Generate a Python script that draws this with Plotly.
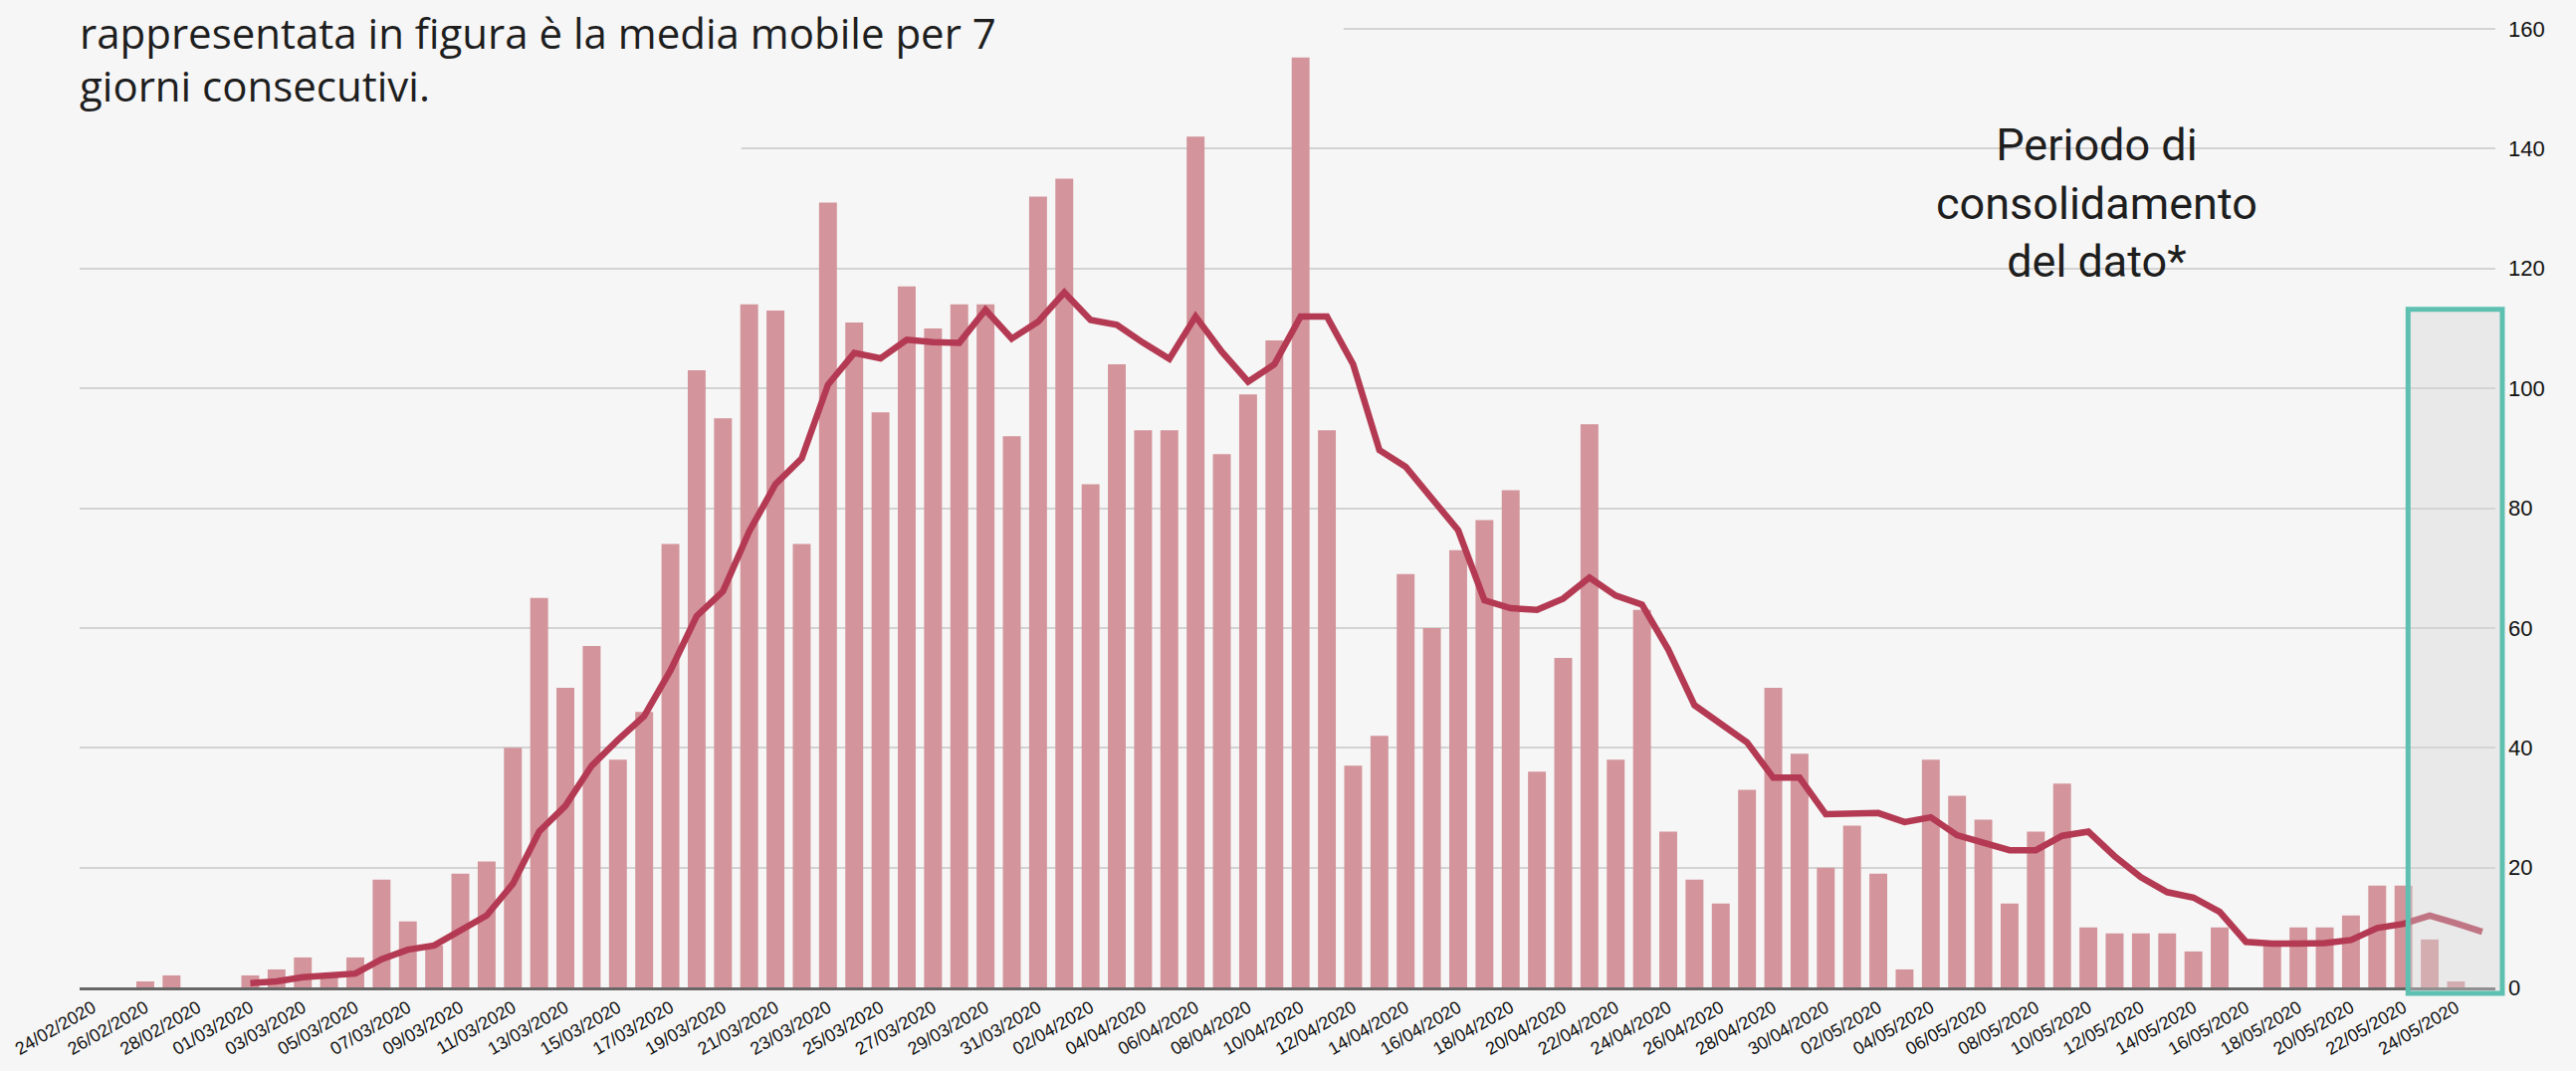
import datetime as dt
import plotly.graph_objects as go

# ---- data -------------------------------------------------------------
start = dt.date(2020, 2, 24)
dates = [(start + dt.timedelta(days=i)).strftime("%d/%m/%Y") for i in range(92)]

daily_values = [
    0, 0, 1, 2, 0, 0,                                   # 24/02 - 29/02
    2, 3, 5, 2, 5, 18, 11, 7, 19, 21,                   # 01/03 - 10/03
    40, 65, 50, 57, 38, 46, 74, 103, 95, 114,           # 11/03 - 20/03
    113, 74, 131, 111, 96, 117, 110, 114, 114, 92,      # 21/03 - 30/03
    132, 135, 84, 104, 93, 93, 142, 89, 99, 108,        # 31/03 - 09/04
    160, 93, 37, 42, 69, 60, 73, 78, 83, 36,            # 10/04 - 19/04
    55, 94, 38, 63, 26, 18, 14, 33, 50, 39,             # 20/04 - 29/04
    20, 27, 19, 3, 38, 32, 28, 14, 26, 34,              # 30/04 - 09/05
    10, 9, 9, 9, 6, 10, 0, 7, 10, 10,                   # 10/05 - 19/05
    12, 17, 17, 8, 1, 0,                                # 20/05 - 25/05
]

moving_avg = [
    None, None, None, None, None, None,
    0.7, 1.0, 1.7, 2.0, 2.3, 4.7, 6.3, 7.0, 9.6, 12.0,
    17.3, 26.0, 30.3, 37.0, 41.3, 45.3, 52.9, 62.0, 66.1, 76.1,
    84.0, 88.3, 100.6, 105.9, 105.0, 108.1, 107.7, 107.6, 113.1, 108.3,
    111.1, 116.0, 111.4, 110.6, 107.6, 104.9, 112.0, 106.1, 101.1, 104.0,
    112.0, 112.0, 104.0, 89.7, 86.9, 81.6, 76.3, 64.6, 63.3, 63.0,
    64.9, 68.4, 65.4, 63.9, 56.4, 47.1, 44.1, 40.9, 35.0, 35.0,
    28.9, 29.0, 29.1, 27.6, 28.4, 25.4, 24.1, 22.9, 22.9, 25.3,
    26.0, 21.9, 18.4, 15.9, 15.0, 12.6, 7.6, 7.3, 7.3, 7.4,
    7.9, 9.9, 10.6, 12.0, 10.7, 9.3,
]

tick_labels = dates[::2]
y_ticks = [0, 20, 40, 60, 80, 100, 120, 140, 160]

title_lines = ["rappresentata in figura è la media mobile per 7", "giorni consecutivi."]
box_label = "Periodo di<br>consolidamento<br>del dato*"

# ---- style ------------------------------------------------------------
BG = "#f6f6f6"
BAR = "#d3959b"
LINE = "#b43a53"
TEAL = "#5ec0b1"
GRID = "#d3d3d3"

fig = go.Figure()
fig.add_trace(go.Bar(x=dates, y=daily_values, marker=dict(color=BAR, line=dict(width=0)),
                     width=0.68, showlegend=False, hoverinfo="x+y"))
fig.add_trace(go.Scatter(x=dates, y=moving_avg, mode="lines",
                         line=dict(color=LINE, width=6.5), showlegend=False,
                         connectgaps=False))

W, H = 2588, 1076
Y_TOP = 160.5
# 0 at y=996 px, 160 at y=29 px
L, R, B = 72, 81, 80
ppu = (996 - 29) / 160.0
T = int(round(29 - (Y_TOP - 160) * ppu))
pw, ph = W - L - R, H - T - B

def px_x(p):
    return (p - L) / pw

def px_y(p):
    return (H - B - p) / ph

shapes = [
    # areas masked by the text block (background colour)
    dict(type="rect", xref="paper", yref="paper", layer="above",
         x0=-0.05, x1=px_x(1346), y0=px_y(58), y1=1.1,
         fillcolor=BG, line=dict(width=0)),
    dict(type="rect", xref="paper", yref="paper", layer="above",
         x0=-0.05, x1=px_x(739), y0=px_y(162), y1=1.1,
         fillcolor=BG, line=dict(width=0)),
    # consolidation period box
    dict(type="rect", xref="paper", yref="paper", layer="above",
         x0=px_x(2419), x1=px_x(2514), y0=px_y(1002), y1=px_y(312),
         fillcolor="rgba(212,212,212,0.38)", line=dict(color=TEAL, width=5)),
]

annotations = [
    dict(text=title_lines[0], xref="paper", yref="paper", x=px_x(70), y=px_y(33),
         xanchor="left", yanchor="middle", showarrow=False,
         font=dict(family="Open Sans", size=42, color="#1e1e1e")),
    dict(text=title_lines[1], xref="paper", yref="paper", x=px_x(70), y=px_y(86),
         xanchor="left", yanchor="middle", showarrow=False,
         font=dict(family="Open Sans", size=42, color="#1e1e1e")),
    dict(text=box_label, xref="paper", yref="paper", x=px_x(2105), y=px_y(205),
         xanchor="center", yanchor="middle", align="center", showarrow=False,
         font=dict(family="Roboto", size=45, color="#1e1e1e")),
]

fig.update_layout(
    width=W, height=H, autosize=False,
    margin=dict(l=L, r=R, t=T, b=B),
    paper_bgcolor=BG, plot_bgcolor=BG,
    shapes=shapes, annotations=annotations,
    xaxis=dict(type="category", range=[-0.5, 91.5], tickmode="array",
               tickvals=tick_labels, ticktext=tick_labels, tickangle=-30,
               tickfont=dict(family="Liberation Sans, Arial", size=18, color="#111"),
               showgrid=False, showline=True, linecolor="#666", linewidth=3,
               ticks="", zeroline=False),
    yaxis=dict(side="right", range=[0, Y_TOP], tickmode="array", tickvals=y_ticks,
               tickfont=dict(family="Liberation Sans, Arial", size=22, color="#111"),
               gridcolor=GRID, gridwidth=2, zeroline=False, showline=False,
               ticks="", ticklabelstandoff=12),
)

fig.write_html("out.html", config={"displayModeBar": False},
               post_script="document.body.style.margin='0';document.body.style.overflow='hidden';")
